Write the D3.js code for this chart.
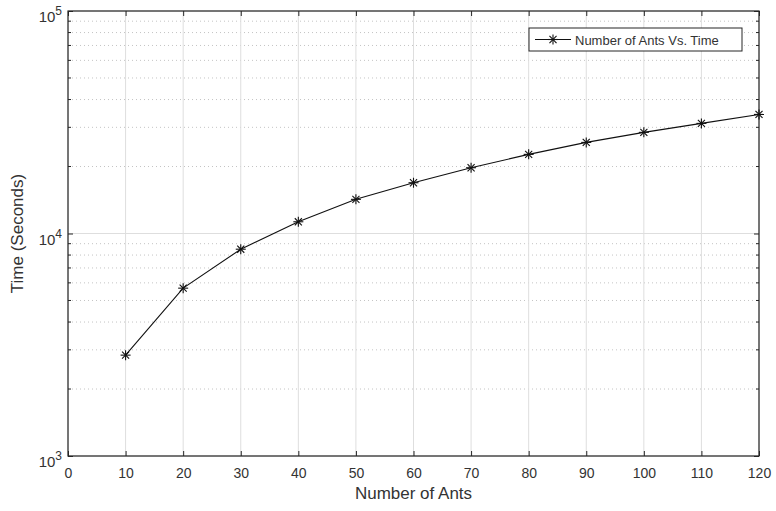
<!DOCTYPE html>
<html>
<head>
<meta charset="utf-8">
<script src="https://cdn.jsdelivr.net/npm/d3@7"></script>
<style>
  body { margin: 0; background: #fff; }
  text { font-family: "Liberation Sans", Arial, sans-serif; fill: #333; }
</style>
</head>
<body>
<svg id="chart" width="776" height="511"></svg>
<script>
// values
const ants = [10, 20, 30, 40, 50, 60, 70, 80, 90, 100, 110, 120];
const seconds = [2840, 5680, 8500, 11290, 14240, 16910, 19750, 22680, 25670, 28480, 31250, 34290];
const xTicks = [0, 10, 20, 30, 40, 50, 60, 70, 80, 90, 100, 110, 120];
const yDecades = [3, 4, 5];
const legendLabel = "Number of Ants Vs. Time";

const width = 776, height = 511;
const margin = { top: 11, right: 17, bottom: 55, left: 68 };
const iw = width - margin.left - margin.right;
const ih = height - margin.top - margin.bottom;

const svg = d3.select("#chart");
const g = svg.append("g").attr("transform", `translate(${margin.left},${margin.top})`);

const x = d3.scaleLinear().domain([0, 120]).range([0, iw]);
const y = d3.scaleLog().domain([1e3, 1e5]).range([ih, 0]);

// minor values 2..9 in each decade
const minor = [];
[1e3, 1e4].forEach(function (d) {
  for (let k = 2; k <= 9; k++) minor.push(d * k);
});

// minor grid (dotted)
g.append("g").selectAll("line").data(minor).join("line")
  .attr("x1", 0).attr("x2", iw)
  .attr("y1", d => y(d)).attr("y2", d => y(d))
  .attr("stroke", "#c4c4c4").attr("stroke-width", 1)
  .attr("stroke-dasharray", "1,3");

// major grid
g.append("g").selectAll("line").data(xTicks).join("line")
  .attr("x1", d => x(d)).attr("x2", d => x(d))
  .attr("y1", 0).attr("y2", ih)
  .attr("stroke", "#dedede").attr("stroke-width", 1);
g.append("g").selectAll("line").data(yDecades).join("line")
  .attr("x1", 0).attr("x2", iw)
  .attr("y1", d => y(Math.pow(10, d))).attr("y2", d => y(Math.pow(10, d)))
  .attr("stroke", "#dedede").attr("stroke-width", 1);

// axes (ticks inward, MATLAB style)
const xAxis = g.append("g").attr("transform", `translate(0,${ih})`)
  .call(d3.axisBottom(x).tickValues(xTicks).tickSizeInner(-5).tickSizeOuter(0).tickPadding(12));
const xTop = g.append("g")
  .call(d3.axisTop(x).tickValues(xTicks).tickSizeInner(-5).tickSizeOuter(0).tickFormat(""));
const yAxis = g.append("g")
  .call(d3.axisLeft(y).tickValues(yDecades.map(d => Math.pow(10, d))).tickSizeInner(-5).tickSizeOuter(0).tickFormat(""));
const yRight = g.append("g").attr("transform", `translate(${iw},0)`)
  .call(d3.axisRight(y).tickValues(yDecades.map(d => Math.pow(10, d))).tickSizeInner(-5).tickSizeOuter(0).tickFormat(""));

// minor ticks on y
g.append("g").selectAll("line").data(minor).join("line")
  .attr("x1", 0).attr("x2", 3)
  .attr("y1", d => y(d)).attr("y2", d => y(d))
  .attr("stroke", "#262626");
g.append("g").selectAll("line").data(minor).join("line")
  .attr("x1", iw - 3).attr("x2", iw)
  .attr("y1", d => y(d)).attr("y2", d => y(d))
  .attr("stroke", "#262626");

[xAxis, xTop, yAxis, yRight].forEach(function (a) {
  a.select(".domain").remove();
  a.selectAll(".tick line").attr("stroke", "#262626");
});
xAxis.selectAll(".tick text").attr("font-size", 14).attr("fill", "#333")
  .attr("font-family", "Liberation Sans, Arial, sans-serif");

// y tick labels with superscript exponent
const yl = g.append("g").selectAll("text").data(yDecades).join("text")
  .attr("x", -6).attr("y", d => y(Math.pow(10, d)) + 11)
  .attr("text-anchor", "end").attr("font-size", 15);
yl.append("tspan").text("10");
yl.append("tspan").attr("dy", -7).attr("font-size", 12).text(d => d);

// box
g.append("rect").attr("x", 0).attr("y", 0).attr("width", iw).attr("height", ih)
  .attr("fill", "none").attr("stroke", "#262626").attr("stroke-width", 1.2);

// line
const line = d3.line().x((d, i) => x(ants[i])).y(d => y(d));
g.append("path").datum(seconds)
  .attr("fill", "none").attr("stroke", "#111").attr("stroke-width", 1.1)
  .attr("d", line);

// asterisk markers
function star(sel, r) {
  const angles = [0, 45, 90, 135];
  angles.forEach(function (a) {
    const rad = a * Math.PI / 180;
    sel.append("line")
      .attr("x1", -r * Math.cos(rad)).attr("y1", -r * Math.sin(rad))
      .attr("x2", r * Math.cos(rad)).attr("y2", r * Math.sin(rad))
      .attr("stroke", "#111").attr("stroke-width", 1.1);
  });
}
g.append("g").selectAll("g").data(seconds).join("g")
  .attr("transform", (d, i) => `translate(${x(ants[i])},${y(d)})`)
  .each(function () { star(d3.select(this), 5); });

// axis labels
svg.append("text")
  .attr("x", margin.left + iw / 2).attr("y", 499)
  .attr("text-anchor", "middle").attr("font-size", 17)
  .text("Number of Ants");
svg.append("text")
  .attr("transform", `translate(23,${margin.top + ih / 2}) rotate(-90)`)
  .attr("text-anchor", "middle").attr("font-size", 17)
  .text("Time (Seconds)");

// legend
const lg = svg.append("g").attr("transform", "translate(529,28)");
lg.append("rect").attr("width", 213).attr("height", 23)
  .attr("fill", "#fff").attr("stroke", "#262626").attr("stroke-width", 1);
lg.append("line").attr("x1", 6).attr("x2", 42).attr("y1", 11.5).attr("y2", 11.5)
  .attr("stroke", "#111").attr("stroke-width", 1.1);
star(lg.append("g").attr("transform", "translate(24,11.5)"), 5);
lg.append("text").attr("x", 46).attr("y", 16.5).attr("font-size", 13)
  .text(legendLabel);
</script>
</body>
</html>
